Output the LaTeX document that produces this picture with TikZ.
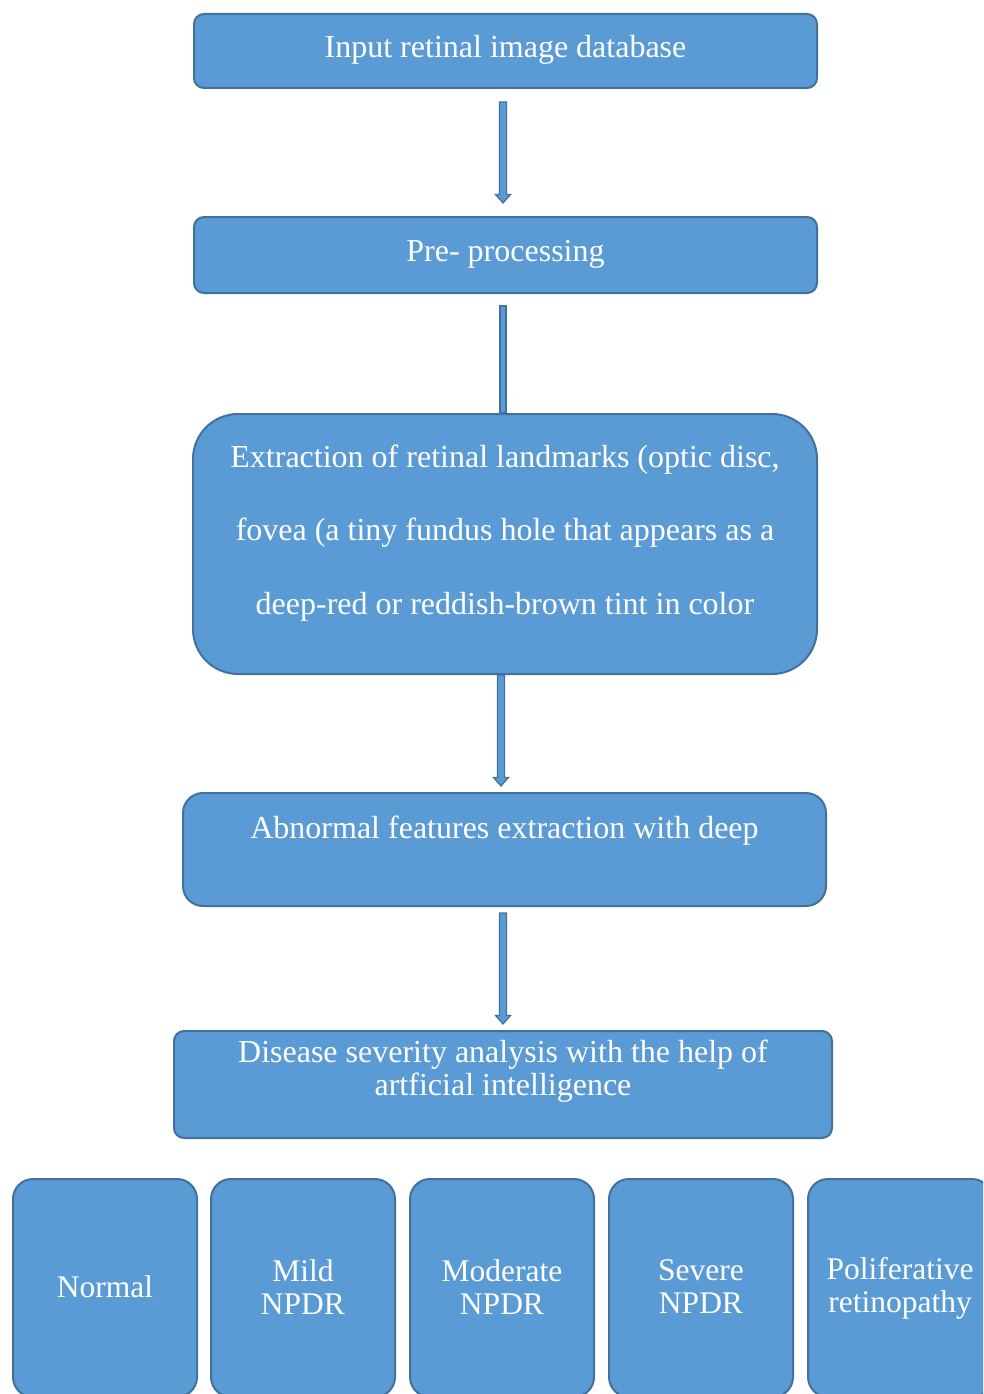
\documentclass[tikz,border=0pt]{standalone}
\usepackage{fontspec}
\setmainfont{Liberation Serif}
\usetikzlibrary{calc}

\definecolor{boxfill}{HTML}{5B9BD5}
\definecolor{boxline}{HTML}{41719C}

% centred lines whose baseline is the first line's baseline
\newcommand\stacked[1]{\begin{tabular}[t]{@{}c@{}}#1\end{tabular}}

% block arrow from the bottom of node #1 to the top of node #2:
% #3 = gap below #1, #4 = gap above #2, #5 = horizontal shift
\newcommand\flowarrow[5]{%
  \draw[blockarrow] let \p1=(#1.south), \p2=(#2.north) in
    (\x1+#5-3.5pt,\y1-#3) -- (\x1+#5+3.5pt,\y1-#3)
    -- (\x1+#5+3.5pt,\y2+#4+8.5pt) -- (\x1+#5+7.5pt,\y2+#4+8.5pt)
    -- (\x1+#5,\y2+#4) -- (\x1+#5-7.5pt,\y2+#4+8.5pt)
    -- (\x1+#5-3.5pt,\y2+#4+8.5pt) -- cycle;}

\begin{document}
\begin{tikzpicture}[x=1pt,y=-1pt,
  box/.style={draw=boxline, fill=boxfill, line width=2pt, text=white,
    font=\fontsize{32}{33}\selectfont, inner xsep=0pt, inner ysep=0pt,
    anchor=north west},
  grade/.style={box, font=\fontsize{31.5}{33}\selectfont,
    rounded corners=20pt, minimum width=184pt,
    minimum height=218pt, text depth=218pt-#1, text height=#1},
  blockarrow/.style={fill=boxfill, draw=boxline, line width=1.2pt,
    line join=miter}]

\useasboundingbox (0,0) rectangle (983,1394);
\clip (0,0) rectangle (983,1394);

% main flow
\node[box, rounded corners=10pt, minimum width=623pt,
      text height=44pt, text depth=30pt] (in) at (193,13)
  {Input retinal image database};
\node[box, rounded corners=10pt, minimum width=623pt,
      text height=44pt, text depth=32pt] (pre) at (193,216)
  {Pre- processing};
\node[box, rounded corners=45pt, minimum width=624pt,
      text height=53pt, text depth=207pt,
      font=\fontsize{32}{73.5}\selectfont] (ext) at (192,413)
  {\stacked{Extraction of retinal landmarks (optic disc,\\
            fovea (a tiny fundus hole that appears as a\\
            deep-red or reddish-brown tint in color}};
\node[box, rounded corners=20pt, minimum width=643pt,
      text height=45pt, text depth=68pt] (abn) at (182,792)
  {Abnormal features extraction with deep};
\node[box, rounded corners=10pt, minimum width=658pt,
      text height=31pt, text depth=76pt] (dis) at (173,1030)
  {\stacked{Disease severity analysis with the help of\\
            artficial intelligence}};

% severity grades
\node[grade=118pt] (normal) at (12,1178)  {Normal};
\node[grade=102pt] (mild)   at (210,1178) {\stacked{Mild\\NPDR}};
\node[grade=102pt] (mod)    at (409,1178) {\stacked{Moderate\\NPDR}};
\node[grade=101pt] (sev)    at (608,1178) {\stacked{Severe\\NPDR}};
\node[grade=100pt] (pdr)    at (807,1178) {\stacked{Poliferative\\retinopathy}};

% connectors
\flowarrow{in}{pre}{13pt}{13pt}{-2.5pt}
\draw[blockarrow] let \p1=(pre.south), \p2=(ext.north) in
  (\x1-5.5pt,\y1-12pt) rectangle (\x1+0.5pt,\y2);
\flowarrow{ext}{abn}{0pt}{6pt}{-4pt}
\flowarrow{abn}{dis}{6pt}{6pt}{-1.5pt}
\end{tikzpicture}
\end{document}
